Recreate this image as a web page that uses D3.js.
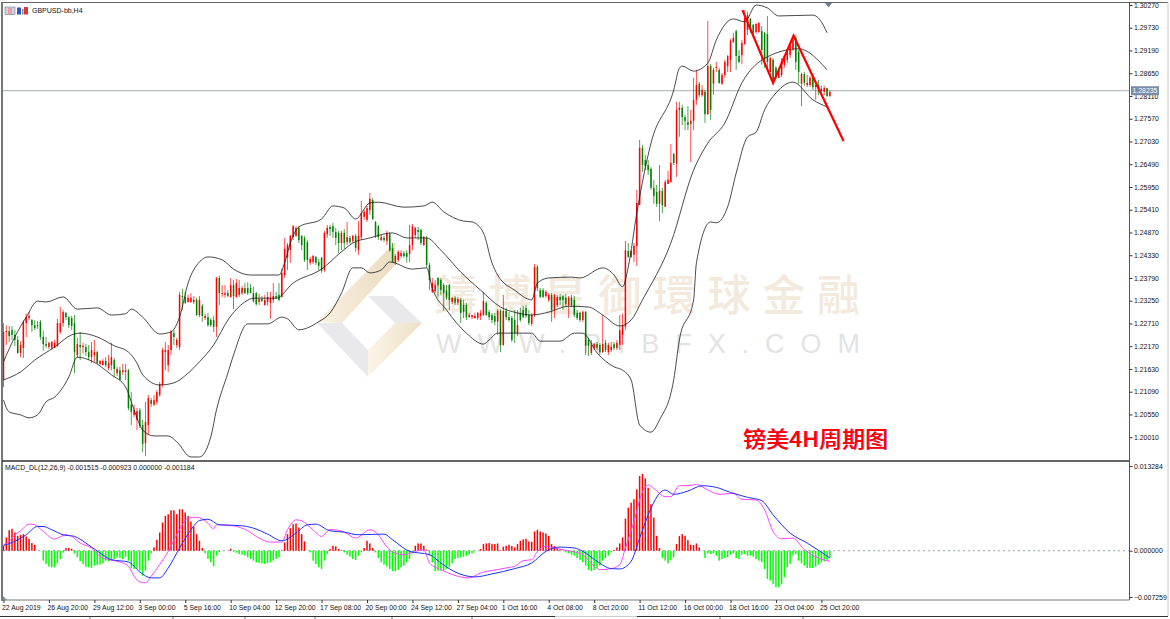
<!DOCTYPE html>
<html><head><meta charset="utf-8">
<script src="https://cdnjs.cloudflare.com/ajax/libs/d3/7.8.5/d3.min.js"></script>
<style>html,body{margin:0;padding:0;background:#fff}svg{display:block}text{font-family:"Liberation Sans",Arial,sans-serif}</style>
</head><body><svg id="c" width="1170" height="619"></svg>
<script>
// GBPUSD H4 candles, in 1/10000 of a price unit
const candleOpen=[12137,12251,12253,12255,12244,12232,12201,12213,12272,12284,12279,12267,12267,12275,12239,12222,12215,12213,12213,12218,12251,12272,12296,12286,12284,12272,12196,12220,12215,12215,12203,12191,12196,12203,12175,12172,12182,12165,12172,12184,12153,12160,12156,12156,12160,12078,12054,12042,12065,12030,11987,12030,12089,12078,12085,12101,12125,12203,12172,12208,12248,12220,12215,12336,12334,12322,12322,12322,12327,12291,12313,12284,12286,12279,12279,12263,12379,12341,12339,12343,12334,12362,12334,12339,12343,12355,12355,12355,12343,12343,12322,12329,12315,12322,12320,12327,12336,12339,12334,12386,12427,12445,12476,12479,12498,12479,12474,12464,12415,12417,12429,12417,12427,12398,12483,12500,12502,12488,12486,12462,12486,12464,12474,12467,12479,12445,12476,12524,12517,12540,12564,12512,12502,12469,12474,12467,12483,12450,12415,12422,12431,12438,12438,12436,12457,12481,12493,12493,12457,12474,12410,12346,12348,12379,12374,12362,12350,12362,12322,12332,12320,12327,12315,12315,12286,12286,12284,12284,12289,12291,12320,12298,12291,12289,12275,12301,12220,12301,12286,12284,12279,12248,12296,12303,12308,12291,12270,12291,12405,12350,12350,12336,12327,12339,12303,12315,12334,12336,12332,12315,12332,12327,12296,12296,12279,12298,12232,12201,12213,12222,12220,12203,12225,12203,12208,12222,12213,12220,12244,12263,12443,12429,12434,12455,12552,12688,12659,12647,12638,12593,12583,12555,12586,12548,12602,12607,12673,12650,12778,12783,12761,12749,12745,12752,12802,12840,12813,12821,12768,12882,12840,12878,12873,12840,12861,12882,12897,12939,12965,12906,12908,12935,12968,12994,12980,12963,12963,12965,12961,12958,12868,12897,12878,12854,12861,12885,12897,12908,12923,12949,12916,12840,12863,12837,12837,12854,12832,12837,12823,12821,12830,12811];
const candleClose=[12251,12253,12241,12244,12232,12201,12220,12275,12286,12289,12267,12260,12265,12239,12222,12218,12225,12227,12225,12272,12272,12298,12286,12267,12265,12203,12222,12215,12218,12203,12191,12208,12203,12177,12182,12182,12172,12177,12191,12163,12163,12137,12160,12160,12070,12061,12065,12063,12028,11985,12037,12094,12080,12089,12108,12127,12208,12208,12208,12251,12239,12232,12339,12334,12320,12332,12332,12327,12291,12327,12289,12289,12267,12267,12263,12379,12343,12343,12343,12336,12362,12336,12367,12355,12355,12343,12343,12343,12324,12317,12329,12324,12327,12334,12332,12336,12332,12327,12391,12448,12457,12479,12502,12498,12469,12457,12422,12422,12424,12431,12415,12408,12396,12486,12498,12495,12488,12474,12462,12486,12462,12476,12464,12479,12450,12479,12533,12536,12545,12567,12519,12479,12476,12476,12469,12486,12445,12417,12431,12441,12438,12431,12429,12457,12502,12498,12488,12462,12476,12410,12374,12367,12362,12362,12350,12343,12332,12327,12332,12320,12329,12296,12298,12286,12291,12291,12289,12296,12296,12324,12291,12286,12279,12275,12301,12220,12301,12286,12279,12232,12248,12267,12279,12286,12289,12272,12291,12405,12355,12334,12334,12346,12339,12303,12339,12334,12327,12327,12317,12332,12315,12291,12284,12279,12298,12218,12218,12220,12222,12213,12203,12222,12208,12220,12215,12213,12225,12255,12267,12445,12429,12443,12455,12557,12688,12647,12645,12635,12593,12574,12555,12586,12552,12607,12612,12652,12652,12778,12783,12761,12752,12742,12752,12802,12837,12813,12825,12768,12882,12778,12873,12880,12842,12861,12892,12906,12942,12949,12906,12892,12937,12996,13003,12968,12961,12982,12984,12920,12897,12892,12901,12849,12856,12873,12894,12906,12916,12930,12944,12892,12868,12863,12842,12842,12854,12832,12837,12821,12828,12830,12811,12821];
const candleHigh=[12272,12267,12265,12265,12255,12241,12229,12279,12294,12298,12282,12279,12277,12279,12253,12239,12227,12229,12232,12282,12310,12303,12298,12289,12289,12291,12237,12251,12225,12222,12220,12227,12232,12206,12184,12187,12191,12196,12225,12189,12168,12168,12175,12175,12163,12108,12078,12070,12070,12042,12085,12101,12094,12101,12113,12132,12213,12227,12220,12255,12255,12237,12346,12353,12346,12339,12343,12336,12332,12336,12317,12294,12296,12284,12289,12381,12384,12362,12362,12350,12379,12374,12377,12374,12360,12367,12369,12365,12358,12346,12341,12336,12339,12346,12346,12367,12346,12367,12400,12474,12462,12481,12505,12502,12502,12481,12479,12469,12429,12434,12431,12424,12429,12491,12505,12505,12510,12498,12491,12491,12495,12512,12479,12481,12483,12514,12562,12540,12550,12581,12569,12514,12505,12481,12479,12491,12488,12462,12436,12445,12445,12443,12445,12505,12507,12500,12500,12495,12479,12479,12415,12379,12374,12381,12379,12367,12362,12365,12334,12336,12334,12332,12327,12320,12296,12291,12296,12298,12303,12346,12324,12303,12296,12296,12305,12305,12339,12308,12298,12289,12303,12303,12308,12313,12315,12303,12296,12412,12410,12355,12355,12350,12343,12343,12341,12339,12341,12339,12341,12336,12339,12336,12303,12298,12301,12301,12237,12232,12225,12227,12225,12291,12232,12225,12227,12227,12232,12291,12294,12467,12462,12445,12462,12588,12707,12695,12671,12659,12642,12612,12600,12647,12593,12612,12633,12697,12676,12797,12797,12790,12766,12787,12778,12854,12873,12844,12837,12825,12989,12887,12878,12892,12878,12866,12897,12908,12946,12961,12968,12920,12944,13015,13011,12996,12982,12984,12987,12977,12963,13001,12904,12901,12882,12878,12901,12908,12920,12932,12951,12956,12920,12866,12868,12861,12859,12859,12844,12849,12835,12835,12830,12823];
const candleLow=[12120,12220,12227,12232,12218,12199,12191,12189,12239,12279,12251,12255,12258,12232,12206,12213,12210,12208,12213,12215,12246,12263,12279,12260,12255,12153,12189,12184,12199,12194,12184,12177,12180,12175,12172,12172,12168,12160,12160,12144,12146,12137,12149,12137,12065,12030,12049,12018,12023,11966,11956,12006,12073,12075,12078,12097,12120,12160,12156,12196,12220,12213,12208,12303,12317,12320,12320,12317,12289,12286,12275,12279,12263,12263,12251,12239,12315,12334,12332,12334,12332,12305,12332,12334,12339,12341,12339,12343,12320,12313,12315,12322,12313,12313,12282,12320,12329,12324,12332,12379,12398,12415,12469,12476,12462,12445,12417,12398,12410,12412,12410,12398,12391,12393,12474,12479,12474,12457,12438,12445,12448,12457,12460,12462,12441,12434,12469,12517,12512,12529,12517,12474,12469,12467,12464,12457,12441,12415,12410,12417,12427,12427,12415,12417,12445,12474,12469,12457,12455,12403,12350,12343,12343,12332,12339,12301,12327,12303,12317,12315,12315,12272,12284,12279,12284,12282,12282,12279,12279,12289,12289,12279,12272,12267,12244,12203,12218,12279,12275,12227,12225,12241,12275,12284,12284,12267,12265,12286,12348,12332,12332,12332,12322,12275,12284,12310,12315,12303,12313,12284,12310,12286,12279,12275,12275,12196,12194,12196,12208,12208,12196,12201,12203,12196,12203,12208,12208,12208,12220,12255,12427,12427,12417,12408,12555,12631,12635,12624,12588,12555,12548,12514,12533,12548,12602,12605,12647,12619,12714,12742,12730,12730,12654,12730,12790,12809,12809,12747,12766,12754,12813,12868,12840,12837,12854,12868,12868,12937,12873,12889,12887,12932,12956,12961,12956,12958,12961,12885,12878,12868,12861,12840,12851,12854,12856,12878,12889,12901,12918,12873,12840,12787,12835,12832,12832,12825,12802,12813,12818,12813,12809,12809];

// Bollinger Bands(20,2): bar index and value of each read point
const upperBar=[0,4,8,12,15,21,26,33,38,43,45,49,55,59,62,65,69,72,77,81,87,97,99,101,104,112,116,120,124,129,132,141,148,151,155,162,165,169,172,174,180,186,188,192,200,203,211,215,218,220,223,228,236,238,239,243,248,251,257,261,265,269,273,285,288,290];
const upperBand=[1.2180,1.2239,1.2286,1.2324,1.2322,1.2334,1.2305,1.2308,1.2291,1.2294,1.2305,1.2286,1.2246,1.2251,1.2286,1.2367,1.2417,1.2429,1.2422,1.2400,1.2386,1.2386,1.2415,1.2462,1.2500,1.2519,1.2550,1.2545,1.2519,1.2557,1.2559,1.2547,1.2550,1.2559,1.2536,1.2514,1.2512,1.2486,1.2415,1.2386,1.2350,1.2327,1.2367,1.2379,1.2381,1.2379,1.2403,1.2386,1.2358,1.2405,1.2533,1.2699,1.2825,1.2877,1.2882,1.2870,1.2889,1.2944,1.2994,1.2987,1.3027,1.3020,1.3001,1.3003,1.2987,1.2961];
const middleBar=[0,6,11,18,24,27,33,39,44,47,49,55,60,65,69,74,79,85,88,96,102,112,119,123,129,137,142,149,154,161,168,175,181,186,192,199,206,211,217,221,225,235,243,248,254,260,269,280,290];
const middleBand=[1.2137,1.2156,1.2184,1.2215,1.2244,1.2248,1.2239,1.2218,1.2203,1.2177,1.2149,1.2125,1.2130,1.2153,1.2180,1.2220,1.2279,1.2322,1.2331,1.2331,1.2367,1.2400,1.2441,1.2462,1.2474,1.2486,1.2474,1.2474,1.2445,1.2393,1.2350,1.2310,1.2296,1.2291,1.2298,1.2312,1.2310,1.2291,1.2265,1.2279,1.2327,1.2462,1.2635,1.2699,1.2747,1.2842,1.2904,1.2923,1.2873];
const lowerBar=[0,2,6,9,12,15,18,23,26,31,38,43,46,49,53,58,61,66,69,73,75,79,81,86,93,98,100,104,111,115,119,123,126,129,133,136,144,149,151,156,163,169,171,174,186,189,196,201,204,209,215,218,221,224,228,231,236,238,243,244,249,251,255,258,262,265,268,272,278,285,290];
const lowerBand=[1.2089,1.2061,1.2054,1.2047,1.2054,1.2085,1.2096,1.2144,1.2191,1.2182,1.2149,1.2120,1.2066,1.2018,1.2004,1.2004,1.1990,1.1954,1.1954,1.2002,1.2066,1.2153,1.2196,1.2270,1.2270,1.2286,1.2282,1.2256,1.2275,1.2296,1.2343,1.2403,1.2403,1.2391,1.2398,1.2417,1.2400,1.2403,1.2355,1.2303,1.2248,1.2222,1.2232,1.2248,1.2248,1.2229,1.2229,1.2248,1.2248,1.2201,1.2168,1.2160,1.2137,1.2030,1.2013,1.2042,1.2137,1.2232,1.2327,1.2415,1.2512,1.2510,1.2548,1.2628,1.2714,1.2725,1.2778,1.2818,1.2844,1.2802,1.2785];

// MACD_DL(12,26,9), in 1/100000
const macdHist=[78,208,322,343,286,234,250,260,224,187,120,94,0,0,-156,-208,-250,-260,-260,-198,-130,-26,42,42,31,-42,-104,-166,-208,-250,-260,-270,-234,-224,-218,-198,-156,-166,-156,-130,-104,-114,-130,-94,-156,-270,-286,-286,-312,-390,-312,-156,-42,52,172,286,442,546,572,634,634,572,650,650,598,546,458,374,260,156,42,-42,-130,-182,-244,-78,-26,0,0,0,31,-16,-31,-52,-62,-78,-104,-130,-156,-182,-192,-198,-208,-198,-182,-156,-130,-104,10,130,260,354,416,426,364,260,146,0,-26,-156,-208,-260,-286,-156,-52,26,78,68,26,10,-26,-62,-94,-130,-146,-78,-26,42,156,114,42,-26,-114,-182,-218,-250,-286,-322,-322,-302,-260,-234,-182,-130,-42,78,114,114,78,16,-78,-182,-322,-312,-312,-312,-286,-260,-198,-130,-114,-104,-94,-78,-62,-42,-10,0,26,104,114,120,104,104,114,10,62,78,94,73,52,104,156,177,187,146,140,302,328,302,286,270,234,104,73,42,16,0,-26,-42,-62,-78,-114,-146,-182,-234,-302,-322,-302,-270,-234,-156,-114,-78,-26,10,52,114,208,504,676,754,806,962,1170,1206,1134,988,728,520,234,42,-114,-156,-198,-146,-104,104,229,260,234,166,94,88,114,52,0,-114,-42,-52,-42,-78,-156,-130,-114,-104,-62,-42,-114,-130,-62,-52,-78,-78,-94,-130,-156,-182,-286,-442,-468,-520,-572,-572,-520,-416,-260,-208,-78,-52,-156,-198,-234,-270,-270,-270,-250,-218,-182,-166,-146,-114];
const mainBar=[0,2,4,6,9,11,14,18,19,22,24,27,31,34,37,41,44,46,48,50,52,55,58,61,65,68,72,74,75,81,86,90,94,98,100,103,105,109,112,115,120,124,129,132,134,137,141,144,148,150,154,158,164,168,174,177,180,183,186,188,191,195,200,204,208,210,214,217,219,222,225,227,229,233,235,238,241,244,247,252,257,260,265,268,271,274,278,282,287,291];
const mainLine=[94,146,250,312,416,406,302,182,198,250,224,120,42,-88,-140,-177,-244,-400,-489,-504,-400,-218,-10,250,510,525,432,343,406,390,312,198,135,135,328,484,468,328,224,333,291,198,328,250,120,-21,-62,-26,16,-192,-296,-374,-426,-348,-296,-270,-244,-156,-140,-10,68,31,-10,-62,-244,-296,-281,-218,42,458,926,1030,978,848,848,1019,1019,1040,978,884,900,806,796,640,302,187,198,16,-114,-166];
const signalBar=[0,4,8,12,14,17,21,25,29,34,38,44,48,52,55,58,62,66,69,72,76,83,88,93,98,103,107,110,115,120,125,134,137,143,150,154,159,166,172,180,186,191,196,201,204,209,214,217,221,224,228,231,233,236,241,246,251,256,262,267,271,277,283,291];
const signalLine=[83,146,250,380,380,328,250,224,120,-36,-140,-177,-333,-426,-426,-270,42,328,473,494,406,395,354,260,156,276,406,416,312,291,250,260,172,-10,-62,-192,-333,-411,-364,-281,-192,-10,57,42,-10,-166,-281,-286,-166,198,666,900,952,884,936,1019,993,915,837,785,562,276,120,-114];

// Axes
const priceTicks=[1.30270,1.29730,1.29190,1.28650,1.28110,1.27570,1.27030,1.26490,1.25950,1.25410,1.24870,1.24330,1.23790,1.23250,1.22710,1.22170,1.21630,1.21090,1.20550,1.20010];
const macdTicks=[0.013284,0,-0.007259];
const timeLabels=["22 Aug 2019","26 Aug 20:00","29 Aug 12:00","3 Sep 00:00","5 Sep 16:00","10 Sep 04:00","12 Sep 20:00","17 Sep 08:00","20 Sep 00:00","24 Sep 12:00","27 Sep 04:00","1 Oct 16:00","4 Oct 08:00","8 Oct 20:00","11 Oct 12:00","16 Oct 00:00","18 Oct 16:00","23 Oct 04:00","25 Oct 20:00"];
const barsPerLabel=16;
const lastPrice=1.28235;

// Hand-drawn pattern on the chart
const zigzagBar=[260.2,271,278.2,295.8];
const zigzagPrice=[1.3015,1.2842,1.2954,1.2704];

const svg=d3.select("#c");
const L=3,R=1129.5,T=3,MB=460.5,MT=462,B=600;
const x=d3.scaleLinear().domain([0,291]).range([3.5,829.9]);
const y=d3.scaleLinear().domain([1.2001,1.3027]).range([437.2,5]);
const m=d3.scaleLinear().domain([-0.007259,0.013284]).range([597,466]);
const P=v=>v/10000, M=v=>v/100000;
const defs=svg.append("defs");
const grad=(id,a,b)=>{const g=defs.append("linearGradient").attr("id",id);g.append("stop").attr("offset",0).attr("stop-color",a);g.append("stop").attr("offset",1).attr("stop-color",b);};
grad("tanA","#f8f1e2","#ecdcc0");grad("tanB","#fbf5e8","#eddfc5");
defs.append("clipPath").attr("id","pm").append("rect").attr("x",L).attr("y",T).attr("width",R-L).attr("height",MB-T);
defs.append("clipPath").attr("id","pd").append("rect").attr("x",L).attr("y",MT).attr("width",R-L).attr("height",B-MT);

// watermark
const wm=svg.append("g");
const poly=(p,f)=>wm.append("polygon").attr("points",p.map(a=>a.join(",")).join(" ")).attr("fill",f);
poly([[317,322],[395,242],[395,265],[342,323]],"url(#tanA)");
poly([[317,323],[342,323],[368,350],[368,377]],"#e9e9eb");
poly([[368,350],[395,323],[422,323],[368,377]],"url(#tanB)");
poly([[368,296],[393,296],[422,323],[395,323]],"#e9e9eb");
wm.append("text").attr("x",434).attr("y",311).attr("textLength",426).attr("lengthAdjust","spacing").style("font-family","'Noto Sans CJK TC'").style("font-size","43px").style("font-weight",500).attr("fill","#f3e9dc").text("鑄博皇御環球金融");
wm.append("text").attr("x",436).attr("y",353).attr("textLength",424).attr("lengthAdjust","spacing").style("font-size","27px").attr("fill","#e3e3e3").text("WWW.RIBFX.COM");

// main panel
const main=svg.append("g").attr("clip-path","url(#pm)");
main.append("line").attr("x1",L).attr("x2",R).attr("y1",y(lastPrice)).attr("y2",y(lastPrice)).attr("stroke","#a3abb3").attr("stroke-width",1);
const idx=d3.range(candleClose.length);
const col=i=>candleClose[i]>=candleOpen[i]?"#ff0000":"#008000";
main.append("g").selectAll("line").data(idx).join("line")
 .attr("x1",i=>x(i)).attr("x2",i=>x(i)).attr("y1",i=>y(P(candleHigh[i]))).attr("y2",i=>y(P(candleLow[i])))
 .attr("stroke",col).attr("stroke-width",0.7);
main.append("g").selectAll("rect").data(idx).join("rect")
 .attr("x",i=>x(i)-0.75).attr("width",1.5)
 .attr("y",i=>Math.min(y(P(candleOpen[i])),y(P(candleClose[i]))))
 .attr("height",i=>Math.max(1,Math.abs(y(P(candleOpen[i]))-y(P(candleClose[i])))))
 .attr("fill",col);
const bandLine=(bars,vals)=>d3.line().x((d,i)=>x(bars[i])).y(d=>y(d)).curve(d3.curveMonotoneX)(vals);
[[upperBar,upperBand],[middleBar,middleBand],[lowerBar,lowerBand]].forEach(([b,v])=>
 main.append("path").attr("d",bandLine(b,v)).attr("fill","none").attr("stroke","#1c1c1c").attr("stroke-width",0.8));
main.append("path").attr("d",d3.line().x((d,i)=>x(zigzagBar[i])).y(d=>y(d))(zigzagPrice)).attr("fill","none").attr("stroke","#ff0000").attr("stroke-width",2.2).attr("stroke-linejoin","miter");

// MACD panel
const sub=svg.append("g").attr("clip-path","url(#pd)");
sub.append("line").attr("x1",L).attr("x2",R).attr("y1",m(0)).attr("y2",m(0)).attr("stroke","#9aa3b5").attr("stroke-width",1).attr("stroke-dasharray","2,3");
sub.append("g").selectAll("rect").data(macdHist).join("rect")
 .attr("x",(d,i)=>x(i)-0.75).attr("width",1.5)
 .attr("y",d=>Math.min(m(M(d)),m(0))).attr("height",d=>Math.abs(m(M(d))-m(0)))
 .attr("fill",d=>d>=0?"#ff0000":"#00ff00");
const macdPath=(bars,vals)=>d3.line().x((d,i)=>x(bars[i])).y(d=>m(M(d))).curve(d3.curveMonotoneX)(vals);
sub.append("path").attr("d",macdPath(mainBar,mainLine)).attr("fill","none").attr("stroke","#ff44ff").attr("stroke-width",1);
sub.append("path").attr("d",macdPath(signalBar,signalLine)).attr("fill","none").attr("stroke","#1f2dff").attr("stroke-width",1);

// frame
const frame=svg.append("g").attr("stroke","#555").attr("fill","none");
frame.append("line").attr("x1",2).attr("x2",2).attr("y1",2).attr("y2",B+1).attr("stroke-width",1.6);
frame.append("line").attr("x1",1).attr("x2",1168).attr("y1",2.5).attr("y2",2.5).attr("stroke-width",1).attr("stroke","#666");
frame.append("line").attr("x1",2).attr("x2",R).attr("y1",461).attr("y2",461).attr("stroke-width",1.6).attr("stroke","#333");
frame.append("line").attr("x1",2).attr("x2",R).attr("y1",B).attr("y2",B).attr("stroke-width",1).attr("stroke","#777");
frame.append("line").attr("x1",R).attr("x2",R).attr("y1",2).attr("y2",B).attr("stroke-width",1).attr("stroke","#555");
frame.append("line").attr("x1",1168).attr("x2",1168).attr("y1",2).attr("y2",616).attr("stroke-width",1).attr("stroke","#c8c8c8");
frame.append("path").attr("d","M0,616.5H555M637,616.5H1168").attr("stroke","#333").attr("stroke-width",1);
frame.append("path").attr("d","M555,616.5H637").attr("stroke","#ccc").attr("stroke-width",1);
[90,173,245,315,392,472,720,803].forEach(t=>frame.append("line").attr("x1",t).attr("x2",t).attr("y1",617).attr("y2",619).attr("stroke","#777"));
svg.append("polygon").attr("points","825,3 832,3 828.5,7.5").attr("fill","#6f8096");
svg.append("polygon").attr("points","3,600 3,596 7,600").attr("fill","#7c8c9c");

// axes
const styleAxis=g=>{g.select(".domain").remove();g.selectAll("line").attr("stroke","#333");g.selectAll("text").attr("fill","#111").style("font-size","6.9px").style("font-family","'Liberation Sans'");};
svg.append("g").attr("transform",`translate(${R},0)`).call(d3.axisRight(y).tickValues(priceTicks).tickSize(3).tickPadding(1.5).tickFormat(d3.format(".5f"))).call(styleAxis);
svg.append("g").attr("transform",`translate(${R},0)`).call(d3.axisRight(m).tickValues(macdTicks).tickSize(3).tickPadding(1.5).tickFormat(d3.format(".6f"))).call(styleAxis);
const timeAxis=d3.axisBottom(x).tickValues(timeLabels.map((d,i)=>i*barsPerLabel)).tickSize(3).tickPadding(2).tickFormat((d,i)=>timeLabels[i]);
svg.append("g").attr("transform",`translate(0,${B})`).call(timeAxis).call(styleAxis).selectAll("text").attr("text-anchor","start").attr("dx","-2");

// last price tag
svg.append("rect").attr("x",1131).attr("y",y(lastPrice)-4.5).attr("width",28).attr("height",9).attr("fill","#7b8ca8");
svg.append("text").attr("x",1132.5).attr("y",y(lastPrice)+2.5).attr("fill","#fff").style("font-size","6.9px").text(d3.format(".5f")(lastPrice));

// titles
svg.append("text").attr("x",32).attr("y",12.5).attr("fill","#111").style("font-size","7px").text("GBPUSD-bb,H4");
svg.append("text").attr("x",5).attr("y",470).attr("fill","#111").style("font-size","6.9px").text("MACD_DL(12,26,9) -0.001515 -0.000923 0.000000 -0.001184");
const icon=svg.append("g");
icon.append("rect").attr("x",5).attr("y",7).attr("width",10).attr("height",7.5).attr("fill","#c9d3ee").attr("stroke","#777").attr("stroke-width",.6);
icon.append("rect").attr("x",8).attr("y",8).attr("width",4).attr("height",6).attr("fill","#ef9d9d");
icon.append("rect").attr("x",17).attr("y",7.5).attr("width",4).attr("height",7).attr("fill","#2f55c8");
icon.append("rect").attr("x",22).attr("y",9).attr("width",1.5).attr("height",5.5).attr("fill","#888");
icon.append("rect").attr("x",24).attr("y",7).attr("width",4).attr("height",7.5).attr("fill","#d8362f");

// annotation
const note="镑美4H周期图";
[["#3040c0",0.7,0.7],["#ff0000",0,1]].forEach(([c,o,a])=>svg.append("text").attr("x",743+o).attr("y",447+o*.5).attr("textLength",145).attr("lengthAdjust","spacingAndGlyphs").attr("fill",c).attr("fill-opacity",a).style("font-family","'Noto Sans CJK SC'").style("font-weight",500).style("font-size","22px").text(note));
</script></body></html>
